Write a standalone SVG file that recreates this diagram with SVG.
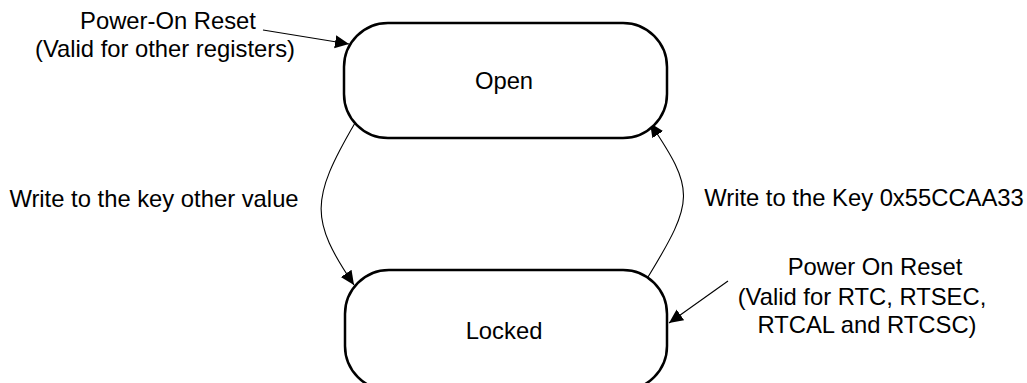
<svg xmlns="http://www.w3.org/2000/svg" width="1027" height="383" viewBox="0 0 1027 383">
<defs>
<style>
.state{fill:#fff;stroke:#000;stroke-width:2.5}
.lbl{font-family:"Liberation Sans",Arial,sans-serif;font-size:23.8px;fill:#000;text-anchor:middle}
.conn{fill:none;stroke:#000;stroke-width:1.1}
</style>
<marker id="ah" markerUnits="userSpaceOnUse" markerWidth="16" markerHeight="14" refX="14" refY="7" orient="auto">
<path d="M0,0.5 L14,7 L0,13.5 Z" fill="#000"/>
</marker>
</defs>
<rect width="1027" height="383" fill="#fff"/>
<g id="connectors">
<path class="conn" d="M355,123 C310,200 310,220 354,285" marker-end="url(#ah)"/>
<path class="conn" d="M648,277 C695,200 695,190 650,123" marker-end="url(#ah)"/>
<path class="conn" d="M263,30 L349,44" marker-end="url(#ah)"/>
<path class="conn" d="M728,281 L669,323" marker-end="url(#ah)"/>
</g>
<g id="open">
<rect class="state" x="344" y="23" width="323" height="115" rx="44" ry="44"/>
<text class="lbl" x="504" y="89">Open</text>
</g>
<g id="locked">
<rect class="state" x="345" y="270" width="322" height="120" rx="44" ry="44"/>
<text class="lbl" x="504" y="339">Locked</text>
</g>
<g id="label-por-top">
<text class="lbl" x="168" y="29">Power-On Reset</text>
<text class="lbl" x="165" y="57">(Valid for other registers)</text>
</g>
<g id="label-write-other">
<text class="lbl" x="154" y="207">Write to the key other value</text>
</g>
<g id="label-write-key">
<text class="lbl" x="864" y="206">Write to the Key 0x55CCAA33</text>
</g>
<g id="label-por-bottom">
<text class="lbl" x="875" y="275">Power On Reset</text>
<text class="lbl" x="862" y="305">(Valid for RTC, RTSEC,</text>
<text class="lbl" x="867" y="333">RTCAL and RTCSC)</text>
</g>
</svg>
